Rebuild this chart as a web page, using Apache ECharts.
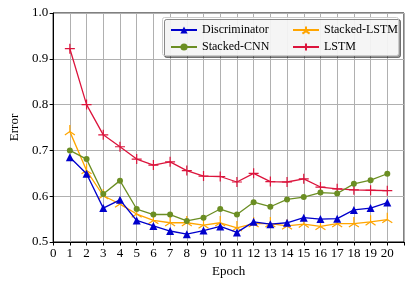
<!DOCTYPE html>
<html><head><meta charset="utf-8">
<script src="https://cdn.jsdelivr.net/npm/echarts@6/dist/echarts.min.js"></script>
<style>html,body{margin:0;padding:0;background:#fff}#c{width:415px;height:287px}</style>
</head><body><div id="c"></div>
<script>
const epochs = [1,2,3,4,5,6,7,8,9,10,11,12,13,14,15,16,17,18,19,20];
const discriminator = [0.685,0.649,0.574,0.592,0.547,0.535,0.524,0.517,0.525,0.534,0.521,0.544,0.539,0.542,0.553,0.550,0.551,0.570,0.574,0.586];
const stackedCNN = [0.700,0.681,0.605,0.634,0.572,0.560,0.560,0.546,0.553,0.572,0.560,0.587,0.577,0.593,0.598,0.608,0.606,0.627,0.635,0.649];
const stackedLSTM = [0.741,0.656,0.601,0.583,0.561,0.547,0.542,0.542,0.537,0.542,0.531,0.540,0.540,0.535,0.539,0.534,0.540,0.540,0.544,0.549];
const lstm = [0.922,0.800,0.734,0.708,0.681,0.668,0.675,0.656,0.644,0.643,0.631,0.650,0.632,0.631,0.638,0.620,0.616,0.614,0.613,0.612];
const xTicks = [0,1,2,3,4,5,6,7,8,9,10,11,12,13,14,15,16,17,18,19,20];
const yTicks = [0.5,0.6,0.7,0.8,0.9,1.0];

const FONT = 'Liberation Serif';
const pts = arr => epochs.map((e,i)=>[e,arr[i]]);
const triUp = 'path://M0,-10 L0,0 M0,0 L-8.66,5 M0,0 L8.66,5';
const plus = 'path://M-10,0 L10,0 M0,-10 L0,10';

const chart = echarts.init(document.getElementById('c'), null, {renderer:'canvas'});
chart.setOption({
  animation:false,
  textStyle:{fontFamily:FONT},
  grid:{left:48,right:11,top:13,bottom:45,show:true,borderColor:'#000',borderWidth:1,backgroundColor:'transparent'},
  xAxis:{type:'value',min:0,max:21,interval:1,
    name:'Epoch',nameLocation:'middle',nameGap:22,nameTextStyle:{fontFamily:FONT,fontSize:13,color:'#000'},
    axisLine:{show:true,lineStyle:{color:'#000',width:1}},
    axisTick:{show:true,length:3.5,lineStyle:{color:'#000'}},
    axisLabel:{fontFamily:FONT,fontSize:13,color:'#000',margin:5,
      formatter:v=> xTicks.indexOf(v)>=0 ? String(v) : ''},
    splitLine:{show:true,lineStyle:{color:'#b0b0b0',width:1}}},
  yAxis:{type:'value',min:0.5,max:1.0,interval:0.1,
    name:'Error',nameLocation:'middle',nameGap:29,nameTextStyle:{fontFamily:FONT,fontSize:13,color:'#000'},
    axisLine:{show:true,lineStyle:{color:'#000',width:1}},
    axisTick:{show:true,length:3.5,lineStyle:{color:'#000'}},
    axisLabel:{fontFamily:FONT,fontSize:13,color:'#000',margin:5,
      formatter:v=>{const t=yTicks.find(y=>Math.abs(y-v)<1e-6);return t!==undefined?t.toFixed(1):'';}},
    splitLine:{show:true,lineStyle:{color:'#b0b0b0',width:1}}},
  graphic:[{type:'rect',left:162,top:17,z:10,
    shape:{width:236,height:38,r:2},
    style:{fill:'rgba(255,255,255,0.9)',stroke:'#ccc',lineWidth:1,shadowColor:'rgba(0,0,0,0.45)',shadowOffsetX:2,shadowOffsetY:2,shadowBlur:0}}],
  legend:[
    {data:['Discriminator','Stacked-CNN'],orient:'vertical',left:165,top:19,itemWidth:26,itemHeight:9,itemGap:5,z:20,
      textStyle:{fontFamily:FONT,fontSize:12,color:'#000'}},
    {data:['Stacked-LSTM','LSTM'],orient:'vertical',left:287,top:19,itemWidth:26,itemHeight:9,itemGap:5,z:20,
      textStyle:{fontFamily:FONT,fontSize:12,color:'#000'}}
  ],
  series:[
    {name:'Discriminator',type:'line',data:pts(discriminator),symbol:'triangle',symbolSize:8,
      lineStyle:{color:'#0000cc',width:1.3},itemStyle:{color:'#0000cc'},z:5},
    {name:'Stacked-CNN',type:'line',data:pts(stackedCNN),symbol:'circle',symbolSize:6,
      lineStyle:{color:'#6b8e23',width:1.3},itemStyle:{color:'#6b8e23'},z:4},
    {name:'Stacked-LSTM',type:'line',data:pts(stackedLSTM),symbol:triUp,symbolSize:10,symbolOffset:[0,-1.7],
      lineStyle:{color:'#ffa500',width:1.3},itemStyle:{color:'#ffa500',borderColor:'#ffa500',borderWidth:1.2},z:3},
    {name:'LSTM',type:'line',data:pts(lstm),symbol:plus,symbolSize:10,
      lineStyle:{color:'#dc143c',width:1.3},itemStyle:{color:'#dc143c',borderColor:'#dc143c',borderWidth:1.2},z:2}
  ]
});
</script></body></html>
